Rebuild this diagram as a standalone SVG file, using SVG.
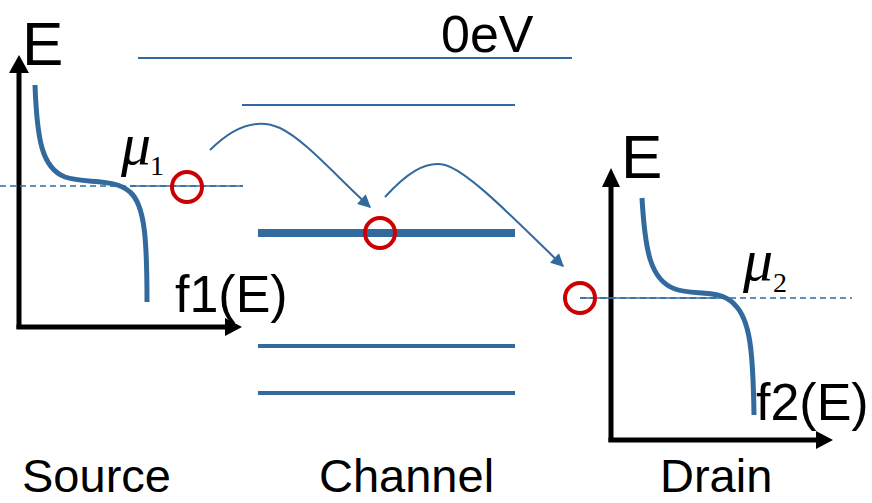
<svg xmlns="http://www.w3.org/2000/svg" width="872" height="503" viewBox="0 0 872 503">
<style>
.txt{font-family:"Liberation Sans",Arial,sans-serif;fill:#000}
.mu{font-family:"Liberation Serif","Times New Roman",serif;fill:#000}
.lvl{stroke:#336a9e;fill:none}
.curve{stroke:#336a9e;stroke-width:5;fill:none}
.axis{stroke:#000;stroke-width:5;fill:none}
.dot{stroke:#cc0000;stroke-width:4;fill:none}
.conn{stroke:#336a9e;stroke-width:2;fill:none}
</style>
<defs>
<marker id="ah" viewBox="0 0 10 10" refX="9" refY="5" markerWidth="16" markerHeight="13" markerUnits="userSpaceOnUse" orient="auto">
<path d="M0,0 L10,5 L0,10 z" fill="#336a9e"/>
</marker>
</defs>
<rect width="872" height="503" fill="#fff"/>

<g id="source">
<line class="axis" x1="19" y1="70" x2="19" y2="329"/>
<line class="axis" x1="16.5" y1="327" x2="228" y2="327"/>
<polygon points="19,55 9,73 29,73" fill="#000"/>
<polygon points="242,327 225,318 225,336" fill="#000"/>
<text class="txt" x="22" y="65" font-size="62">E</text>
<line class="lvl" x1="0" y1="186" x2="243" y2="186" stroke-width="1.5" stroke-dasharray="6,4"/>
<line class="lvl" x1="130" y1="186" x2="243" y2="186" stroke-width="1.5"/>
<path class="curve" d="M35,85 C37,140 42,168 65,177 C85,184 115,178 130,192 C145,205 147,240 147,302"/>
<text class="mu" x="121" y="164" font-size="60" font-style="italic">μ</text>
<text class="mu" x="150" y="175" font-size="28">1</text>
<text class="txt" x="175" y="312" font-size="52">f1(E)</text>
<text class="txt" x="22" y="492" font-size="47">Source</text>
<circle class="dot" cx="187" cy="187" r="15"/>
</g>

<g id="channel">
<line class="lvl" x1="138" y1="58" x2="572" y2="58" stroke-width="2"/>
<line class="lvl" x1="242" y1="105" x2="515" y2="105" stroke-width="2"/>
<line class="lvl" x1="258" y1="233" x2="515" y2="233" stroke-width="8"/>
<line class="lvl" x1="258" y1="346" x2="515" y2="346" stroke-width="4"/>
<line class="lvl" x1="258" y1="393" x2="515" y2="393" stroke-width="4"/>
<text class="txt" x="441" y="52" font-size="52">0eV</text>
<circle class="dot" cx="380" cy="233" r="15"/>
<text class="txt" x="319" y="492" font-size="47">Channel</text>
</g>

<g id="drain">
<line class="axis" x1="611" y1="183" x2="611" y2="442"/>
<line class="axis" x1="608.5" y1="440" x2="818" y2="440"/>
<polygon points="611,168 602,187 620,187" fill="#000"/>
<polygon points="833,440 816,431 816,449" fill="#000"/>
<text class="txt" x="621" y="178" font-size="62">E</text>
<line class="lvl" x1="580" y1="298" x2="852" y2="298" stroke-width="1.5" stroke-dasharray="6,4"/>
<line class="lvl" x1="580" y1="298" x2="720" y2="298" stroke-width="1.5"/>
<path class="curve" d="M642,198 C645,250 650,280 675,289 C695,296 720,288 735,305 C750,320 753,350 754,415"/>
<text class="mu" x="743" y="280" font-size="60" font-style="italic">μ</text>
<text class="mu" x="773" y="292" font-size="28">2</text>
<text class="txt" x="756" y="420" font-size="52">f2(E)</text>
<circle class="dot" cx="580" cy="298" r="15"/>
<text class="txt" x="660" y="492" font-size="47">Drain</text>
</g>

<g id="connectors">
<path class="conn" marker-end="url(#ah)" d="M210,150 C235,125 258,118 280,128 C305,140 335,175 370,207"/>
<path class="conn" marker-end="url(#ah)" d="M385,197 C405,175 425,160 445,165 C470,172 520,225 563,266"/>
</g>
</svg>
